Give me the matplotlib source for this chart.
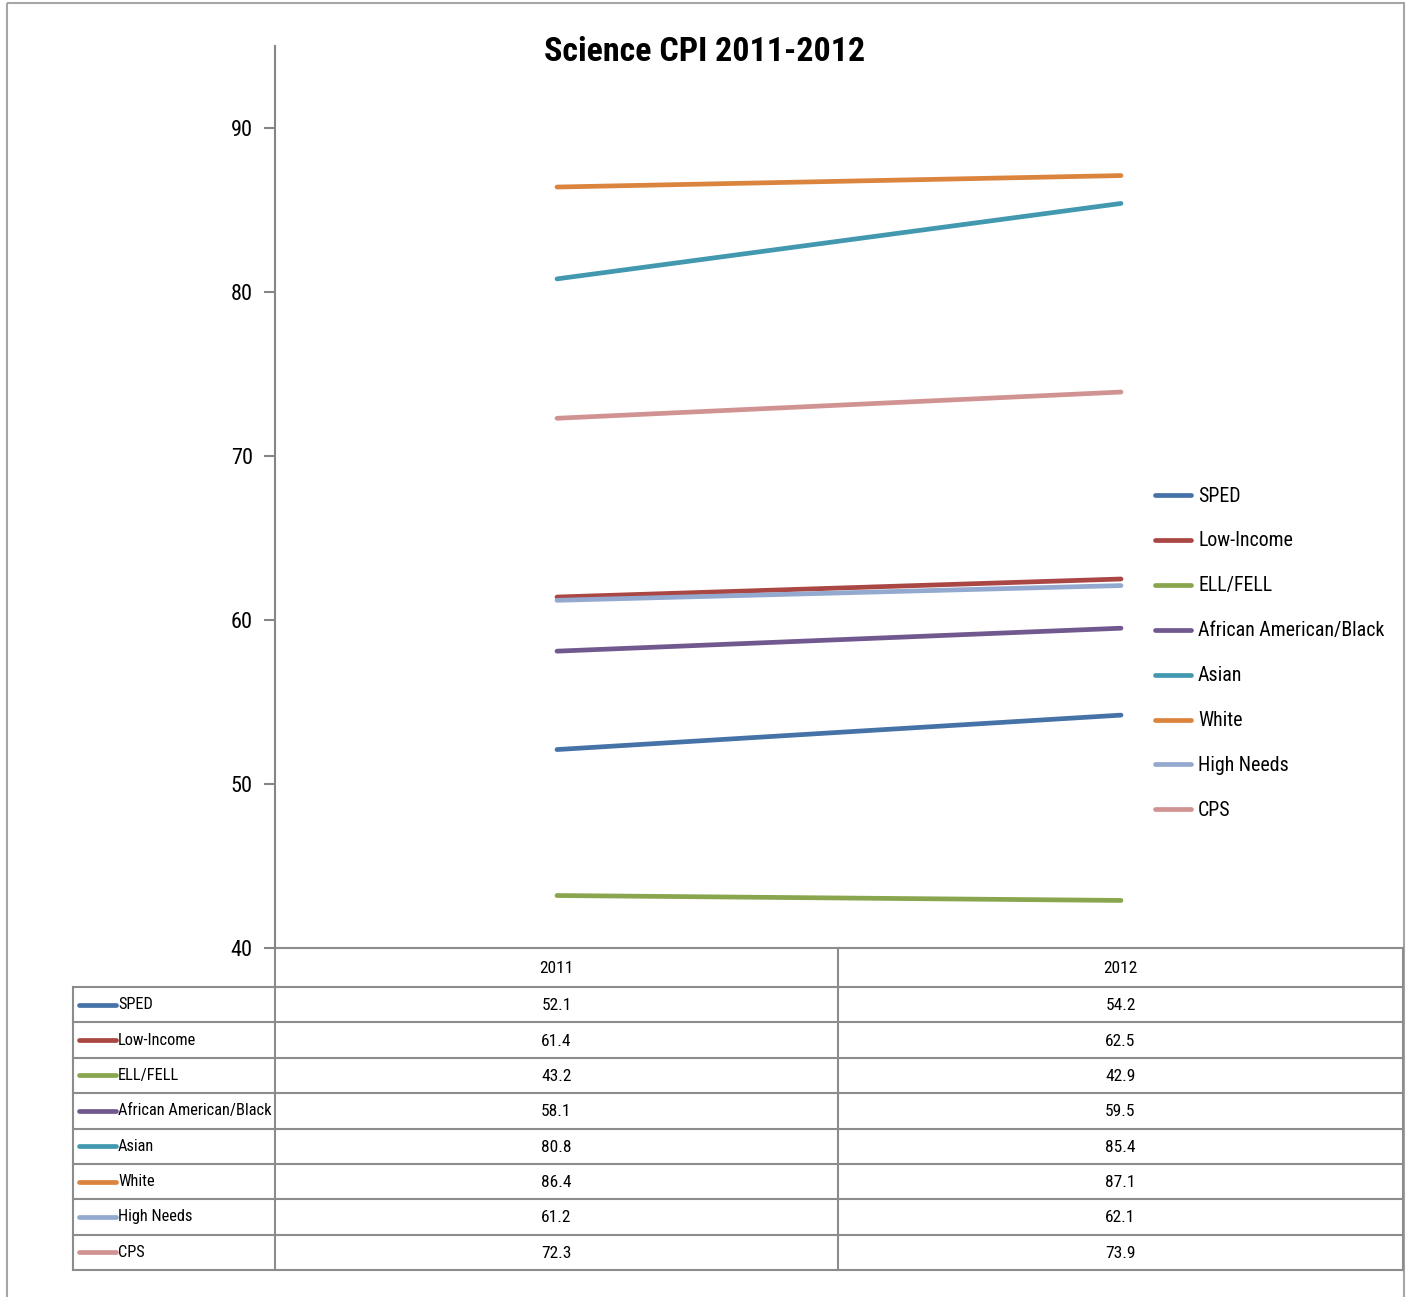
import matplotlib.pyplot as plt
from matplotlib.patches import Rectangle

plt.rcParams['font.family'] = ['Liberation Sans Narrow', 'Roboto Condensed',
                               'Liberation Sans', 'DejaVu Sans']

title = "Science CPI 2011-2012"
years = ["2011", "2012"]
groups = ["SPED", "Low-Income", "ELL/FELL", "African American/Black",
          "Asian", "White", "High Needs", "CPS"]
cpi_2011 = [52.1, 61.4, 43.2, 58.1, 80.8, 86.4, 61.2, 72.3]
cpi_2012 = [54.2, 62.5, 42.9, 59.5, 85.4, 87.1, 62.1, 73.9]
colors = ["#4572A7", "#AA4643", "#89A54E", "#71588F",
          "#4198AF", "#DB843D", "#93A9CF", "#D19392"]

W, H = 1408, 1297
fig = plt.figure(figsize=(W / 100, H / 100), dpi=100)

# overlay in pixel coordinates for frame, legend and data table
ov = fig.add_axes([0, 0, 1, 1])
ov.set_xlim(0, W)
ov.set_ylim(H, 0)
ov.axis('off')

# plot area
left, right, top, bottom = 275, 1403, 46, 948
ax = fig.add_axes([left / W, (H - bottom) / H, (right - left) / W, (bottom - top) / H])
ax.patch.set_alpha(0)
for i, g in enumerate(groups):
    ax.plot([0, 1], [cpi_2011[i], cpi_2012[i]], color=colors[i], lw=3.4,
            solid_capstyle='round', label=g)
ax.set_xlim(-0.5, 1.5)
ax.set_ylim(40, 95)
ax.set_yticks(range(40, 91, 10))
ax.set_xticks([])
for s in ['top', 'right', 'bottom']:
    ax.spines[s].set_visible(False)
ax.spines['left'].set_color('#868686')
ax.spines['left'].set_linewidth(1.5)
ax.tick_params(axis='y', direction='out', length=8, width=1.5, color='#868686',
               labelsize=16, pad=8)

ov.text(705, 52, title, fontsize=24.5, fontweight='bold', ha='center', va='center')

# chart frame
ov.add_patch(Rectangle((7, 3), 1397, 1310, fill=False, ec='#a6a6a6', lw=1.5))

# legend
for i, g in enumerate(groups):
    y = 495 + 44.9 * i
    ov.plot([1155, 1191], [y, y], color=colors[i], lw=3.4, solid_capstyle='round')
    ov.text(1198, y + 1, g, fontsize=14.3, va='center', ha='left')

# data table
grid = '#8c8c8c'
col_x = [73, 275, 838, 1403]
head_top, row_top, tab_bot = 948, 987, 1270
rh = (tab_bot - row_top) / len(groups)
ov.plot([275, 1403], [head_top, head_top], color=grid, lw=1.5)
for k in range(len(groups) + 1):
    y = row_top + rh * k
    ov.plot([73, 1403], [y, y], color=grid, lw=1.5)
ov.plot([73, 73], [row_top, tab_bot], color=grid, lw=1.5)
for x in col_x[1:]:
    ov.plot([x, x], [head_top, tab_bot], color=grid, lw=1.5)

centers = [(col_x[1] + col_x[2]) / 2, (col_x[2] + col_x[3]) / 2]
for j, yr in enumerate(years):
    ov.text(centers[j], (head_top + row_top) / 2 + 1, yr, fontsize=12.5, ha='center', va='center')
for i, g in enumerate(groups):
    yc = row_top + rh * (i + 0.5)
    ov.plot([79, 116], [yc, yc], color=colors[i], lw=3.4, solid_capstyle='round')
    ov.text(118, yc, g, fontsize=11.8, ha='left', va='center')
    ov.text(centers[0], yc + 1, f"{cpi_2011[i]:.1f}", fontsize=12.5, ha='center', va='center')
    ov.text(centers[1], yc + 1, f"{cpi_2012[i]:.1f}", fontsize=12.5, ha='center', va='center')

fig.savefig('out.png', dpi=100)
